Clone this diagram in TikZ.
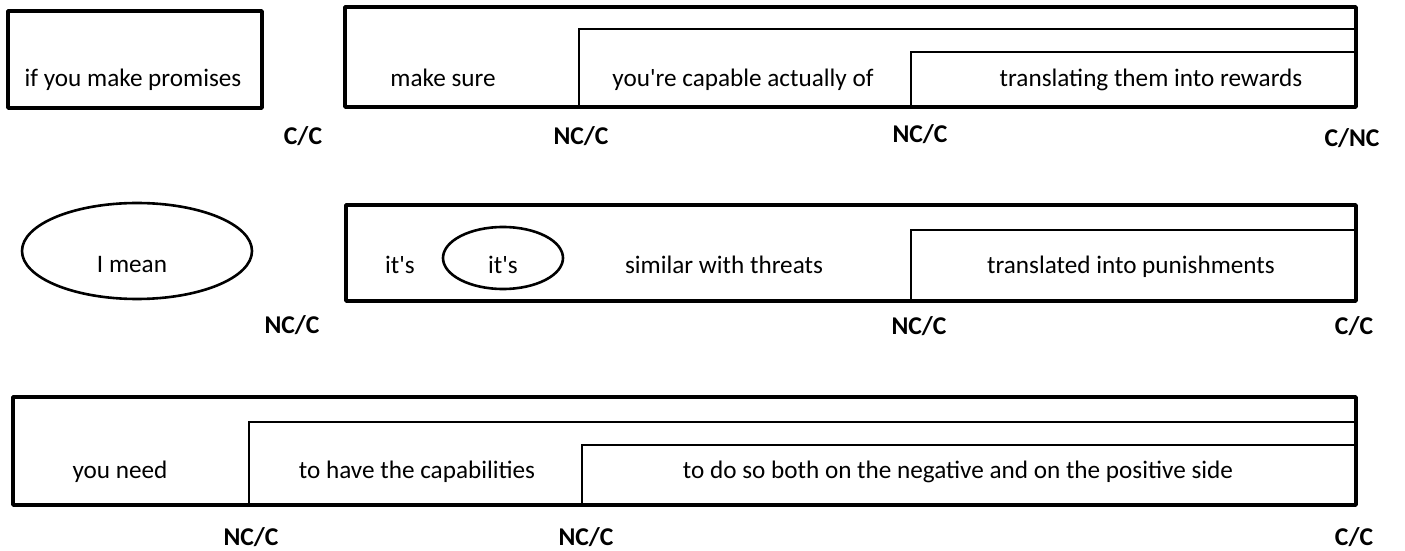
\documentclass[tikz,border=0pt]{standalone}
\usepackage{fontspec}
\setmainfont{Carlito}
\usepackage{tikz}

\begin{document}
\begin{tikzpicture}[
    x=0.5pt, y=-0.5pt,
    frame/.style={line width=1.75pt, line join=round},
    stair/.style={line width=1.15pt},
    oval/.style={line width=1.3pt},
    phrase/.style={font=\fontsize{12.6}{15}\selectfont, inner sep=0pt, anchor=base},
    code/.style={font=\fontsize{12.8}{15}\selectfont\bfseries, inner sep=0pt, anchor=base}
  ]
    \useasboundingbox (0,0) rectangle (1405,551);

    % first line
    \draw[frame] (8,11) rectangle (262,108);
    \draw[stair] (579,107) |- (1356,29);
    \draw[stair] (911,107) |- (1356,52);
    \draw[frame] (345,7) rectangle (1356,107);
    \node[phrase] (promises) at (133,87) {if you make promises};
    \node[phrase] (sure) at (443,87) {make sure};
    \node[phrase] (capable) at (743,87) {you\textquotesingle re capable actually of};
    \node[phrase] (rewards) at (1151,87) {translating them into rewards};

    % second line
    \draw[oval] (137,251) ellipse [x radius=115, y radius=48];
    \draw[stair] (911,300) |- (1356,230);
    \draw[frame] (346,205) rectangle (1356,301);
    \draw[oval] (503,258) ellipse [x radius=60, y radius=31];
    \node[phrase] (mean) at (132,272) {I mean};
    \node[phrase] (its) at (400,273) {it\textquotesingle s};
    \node[phrase] (itsin) at (503,273) {it\textquotesingle s};
    \node[phrase] (threats) at (724,273) {similar with threats};
    \node[phrase] (punish) at (1131,273) {translated into punishments};

    % third line
    \draw[stair] (249,505) |- (1356,422);
    \draw[stair] (582,505) |- (1356,445);
    \draw[frame] (13,397) rectangle (1356,505);
    \node[phrase] (need) at (120,478) {you need};
    \node[phrase] (capab) at (417,478) {to have the capabilities};
    \node[phrase] (sides) at (958,478) {to do so both on the negative and on the positive side};

    % codes under the boundaries
    \foreach \cx/\cy/\ct/\cn in {303/145/{C/C}/a1, 581/145/{NC/C}/a2, 920/143/{NC/C}/a3, 1352/147/{C/NC}/a4,
        292/334/{NC/C}/b1, 919/335/{NC/C}/b2, 1354/335/{C/C}/b3,
        251/545/{NC/C}/c1, 586/545/{NC/C}/c2, 1354/545/{C/C}/c3}
      \node[code] (\cn) at (\cx,\cy) {\ct};
  \end{tikzpicture}
\end{document}
